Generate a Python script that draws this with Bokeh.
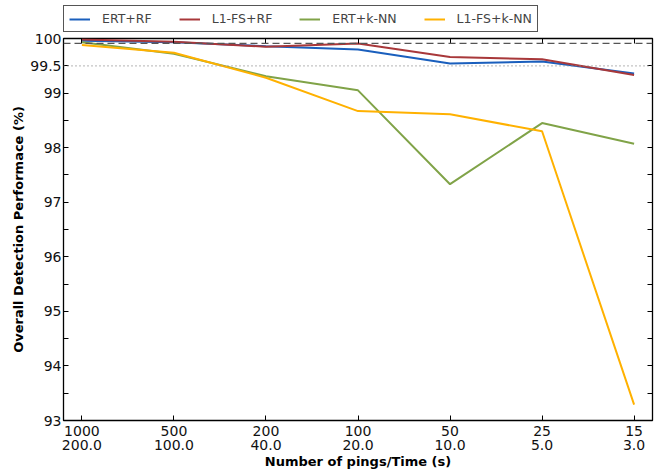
from bokeh.plotting import figure
from bokeh.layouts import column
from bokeh.models import (FixedTicker, LinearAxis, Legend, LegendItem, Span,
                          Range1d)
from bokeh.embed import file_html
from bokeh.resources import INLINE

pings = ["1000", "500", "200", "100", "50", "25", "15"]
times = ["200.0", "100.0", "40.0", "20.0", "10.0", "5.0", "3.0"]
ert_rf = [99.96, 99.93, 99.86, 99.80, 99.54, 99.58, 99.36]
l1_rf = [99.98, 99.94, 99.85, 99.91, 99.66, 99.62, 99.33]
ert_knn = [99.93, 99.72, 99.31, 99.05, 97.33, 98.45, 98.07]
l1_knn = [99.88, 99.74, 99.28, 98.67, 98.61, 98.30, 93.29]
y_major = [93, 94, 95, 96, 97, 98, 99, 99.5, 100]
y_minor = [93.5, 94.5, 95.5, 96.5, 97.5, 98.5]
ref_dashed = 99.91
ref_dotted = 99.5

names = ["ERT+RF", "L1-FS+RF", "ERT+k-NN", "L1-FS+k-NN"]
values = [ert_rf, l1_rf, ert_knn, l1_knn]
colors = ["#1a5fbd", "#a8383a", "#80a348", "#ffb100"]

xs = list(range(len(pings)))
FONT = "DejaVu Sans"
FW, FH = 589, 382
LEFT = 63

p = figure(frame_width=FW, frame_height=FH, output_backend="svg",
           toolbar_location=None,
           x_range=Range1d(-0.2, 6.2), y_range=Range1d(93, 100),
           min_border_left=LEFT, min_border_right=4, min_border_top=6,
           min_border_bottom=2)
p.grid.visible = False
p.outline_line_color = "black"
p.outline_line_width = 1.3
p.background_fill_color = "white"
p.border_fill_color = "white"

for name, ys, col in zip(names, values, colors):
    p.line(xs, ys, line_color=col, line_width=2)

p.add_layout(Span(location=ref_dashed, dimension="width", line_color="#555555",
                  line_dash="7 4", line_width=1.3))
p.add_layout(Span(location=ref_dotted, dimension="width", line_color="#888888",
                  line_dash="1 3", line_width=1.3))

xa = p.xaxis[0]
xa.ticker = FixedTicker(ticks=xs)
xa.major_label_overrides = {i: pings[i] for i in xs}

ya = p.yaxis[0]
ya.ticker = FixedTicker(ticks=y_major, minor_ticks=y_minor)
ya.axis_label = "Overall Detection Performace (%)"

xb = LinearAxis(ticker=FixedTicker(ticks=xs),
                major_label_overrides={i: times[i] for i in xs},
                axis_label="Number of pings/Time (s)")
p.add_layout(xb, "below")

for ax in (xa, ya, xb):
    ax.major_tick_in = 5
    ax.major_tick_out = 0
    ax.minor_tick_in = 5
    ax.minor_tick_out = 0
    ax.axis_line_color = None
    ax.major_label_text_font = FONT
    ax.major_label_text_font_size = "14px"
    ax.major_label_text_color = "#111111"
    ax.axis_label_text_font = FONT
    ax.axis_label_text_font_size = "13px"
    ax.axis_label_text_font_style = "bold"
    ax.axis_label_text_color = "black"
xa.major_label_standoff = 5
xa.axis_label_standoff = 0
xb.major_tick_in = 0
xb.major_label_standoff = 1
xb.axis_label_standoff = 1
ya.major_label_standoff = 2
ya.axis_label_standoff = 1

yr = LinearAxis(ticker=FixedTicker(ticks=[], minor_ticks=y_major + y_minor),
                major_tick_in=0, major_tick_out=0, minor_tick_out=0,
                minor_tick_in=5, axis_line_color=None)
p.add_layout(yr, "right")
xt = LinearAxis(ticker=FixedTicker(ticks=[], minor_ticks=xs),
                major_tick_in=0, major_tick_out=0, minor_tick_out=0,
                minor_tick_in=5, axis_line_color=None)
p.add_layout(xt, "above")

# legend strip above the plot (its lines fall outside its own view)
lg = figure(width=LEFT + FW + 10, height=32, output_backend="svg",
            toolbar_location=None, x_range=Range1d(-0.2, 6.2),
            y_range=Range1d(0, 1),
            min_border=0, x_axis_location=None, y_axis_location=None)
lg.grid.visible = False
lg.outline_line_color = None
lg.border_fill_color = "white"
lg.background_fill_color = "white"
items = []
for name, ys, col in zip(names, values, colors):
    r = lg.line(xs, ys, line_color=col, line_width=2)
    items.append(LegendItem(label=name, renderers=[r]))
legend = Legend(items=items, orientation="horizontal", location=(0, 0),
                label_text_font=FONT, label_text_font_size="12.5px",
                border_line_color="#555555", border_line_width=1.2,
                border_line_alpha=1.0,
                glyph_width=21, label_standoff=12, spacing=27,
                padding=5, margin=0, label_height=12, glyph_height=12)
lg.add_layout(legend, "center")

layout = column(lg, p, spacing=0)
open("out.html", "w").write(file_html(layout, INLINE))
